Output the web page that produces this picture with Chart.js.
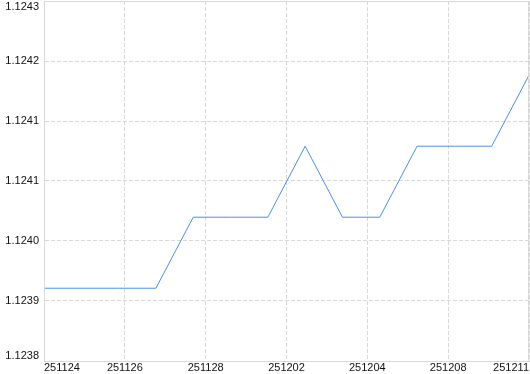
<!DOCTYPE html>
<html>
<head>
<meta charset="utf-8">
<script src="https://cdn.jsdelivr.net/npm/chart.js@4"></script>
<style>
  body { margin: 0; background: #fff; }
  canvas { display: block; }
</style>
</head>
<body>
<canvas id="myChart" width="530" height="374"></canvas>
<script>
// Trading days (YYMMDD) and closing values
const dates = ['251124', '251125', '251126', '251127', '251128', '251201', '251202',
               '251203', '251204', '251205', '251208', '251209', '251210', '251211'];
const values = [1.1239, 1.1239, 1.1239, 1.1239, 1.1240, 1.1240, 1.1240,
                1.1241, 1.1240, 1.1240, 1.1241, 1.1241, 1.1241, 1.1242];

// Axis ticks
const xTickLabels = ['251124', '251126', '251128', '251202', '251204', '251208', '251211'];
const yTickLabels = ['1.1238', '1.1239', '1.1240', '1.1241', '1.1241', '1.1242', '1.1243'];
const yMin = 1.1237975;
const yMax = 1.1243045;

const gridColor = '#d8d8d8';
const textColor = '#111';
const font = { family: 'Liberation Sans', size: 11 };

function evenTicks(min, max, n) {
    const ticks = [];
    for (let i = 0; i < n; i++) {
        ticks.push({ value: min + (max - min) * i / (n - 1) });
    }
    return ticks;
}

// keep the top/bottom y labels inside the plot, and draw the plot frame
const framePlugin = {
    id: 'frame',
    beforeDraw(chart) {
        const items = chart.scales.y.getLabelItems();
        items[0].options.textBaseline = 'bottom';
        items[items.length - 1].options.textBaseline = 'top';
    },
    afterDraw(chart) {
        const a = chart.chartArea;
        const ctx = chart.ctx;
        ctx.save();
        ctx.strokeStyle = gridColor;
        ctx.lineWidth = 1;
        ctx.strokeRect(a.left + 0.5, a.top + 0.5, a.right - a.left - 1, a.bottom - a.top);
        ctx.restore();
    }
};

const ctx = document.getElementById('myChart').getContext('2d');
new Chart(ctx, {
    type: 'line',
    data: {
        datasets: [{
            data: values.map((v, i) => ({ x: i, y: v })),
            borderColor: '#4a8fe3',
            borderWidth: 1,
            pointRadius: 0,
            fill: false,
            tension: 0
        }]
    },
    options: {
        responsive: false,
        animation: false,
        layout: { padding: { top: 1, right: 1, left: 0, bottom: 0 } },
        plugins: {
            legend: { display: false },
            tooltip: { enabled: false }
        },
        scales: {
            x: {
                type: 'linear',
                min: 0,
                max: dates.length - 1,
                afterBuildTicks: axis => { axis.ticks = evenTicks(0, dates.length - 1, xTickLabels.length); },
                afterFit: axis => { axis.height = 13; axis.paddingLeft = 0; axis.paddingRight = 0; },
                ticks: {
                    autoSkip: false,
                    maxRotation: 0,
                    align: 'inner',
                    padding: 0,
                    color: textColor,
                    font: font,
                    callback: (value, index) => xTickLabels[index]
                },
                grid: { color: gridColor, drawTicks: false },
                border: { display: true, color: gridColor, dash: [4, 2] }
            },
            y: {
                type: 'linear',
                min: yMin,
                max: yMax,
                afterBuildTicks: axis => { axis.ticks = evenTicks(yMin, yMax, yTickLabels.length); },
                afterFit: axis => { axis.width = 44; axis.paddingTop = 0; axis.paddingBottom = 0; },
                ticks: {
                    autoSkip: false,
                    padding: 5,
                    color: textColor,
                    font: font,
                    callback: (value, index) => yTickLabels[index]
                },
                grid: { color: gridColor, drawTicks: false },
                border: { display: true, color: gridColor, dash: [4, 2] }
            }
        }
    },
    plugins: [framePlugin]
});
</script>
</body>
</html>
